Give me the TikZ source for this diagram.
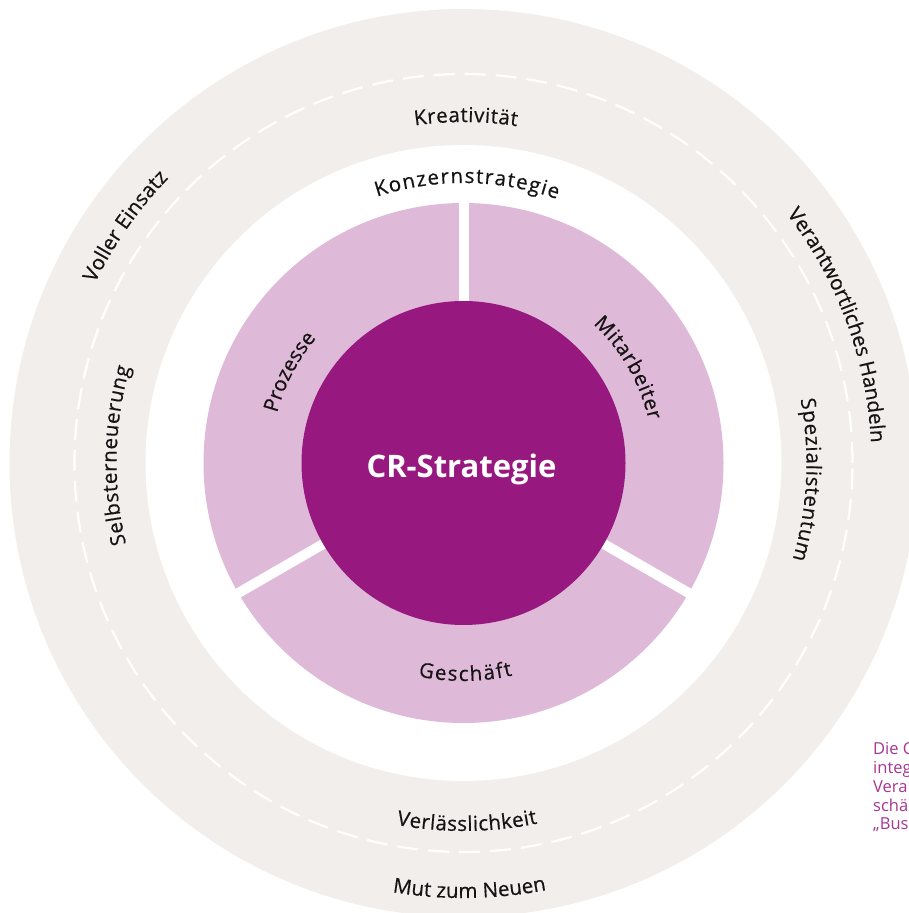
\documentclass[tikz,border=0pt]{standalone}
\usepackage{fontspec}
\setmainfont{Open Sans}
\newfontfamily\labelfamily{Open Sans}[FakeBold=0.5]
\usetikzlibrary{decorations.text}

\definecolor{ringgrey}{HTML}{F1EEEB}
\definecolor{petal}{HTML}{DEB9D8}
\definecolor{core}{HTML}{97197F}
\definecolor{inktext}{HTML}{161314}
\definecolor{captionpurple}{HTML}{A53593}

\newcommand\lblfont{\labelfamily\fontsize{20.5}{20.5}\selectfont}

\tikzset{
  ringlabel/.style={decorate, decoration={text along path,
      text align=fit to path, text color=inktext, text={|\lblfont|#1}}},
  gapline/.style={white, line width=10pt},
  dashring/.style={white, line width=2.2pt, dash pattern=on 21pt off 10pt},
}

% text set along an arc around the centre: start angle, end angle, radius, text
\newcommand\ringtext[4]{\path[ringlabel={#4}] (#1:#3) arc[start angle=#1, end angle=#2, radius=#3];}

\begin{document}
\begin{tikzpicture}[x=1pt,y=1pt]
\useasboundingbox (0,0) rectangle (909,913);
\clip (0,0) rectangle (909,913);

\begin{scope}[shift={(463.5,450)}]
  % outer value ring
  \fill[ringgrey] (0,0) circle[radius=454];
  \draw[dashring] (0,0) circle[radius=389];
  \fill[white] (0,0) circle[radius=318];

  % three segments around the core
  \fill[petal] (0,0) circle[radius=260];
  \foreach \a in {90,210,330} \draw[gapline] (0,0) -- (\a:266);

  % core
  \node[circle, fill=core, minimum size=324pt, inner sep=0pt] (core) at (0,0) {};
  \node[anchor=base, text=white, font=\bfseries\fontsize{31}{31}\selectfont]
    (corelabel) at (-2,-15) {CR-Strategie};

  % segment labels
  \ringtext{165}{140}{193}{Prozesse}
  \ringtext{47}{13}{190}{Mitarbeiter}
  \ringtext{258}{283}{218}{Geschäft}
  \ringtext{108}{70.5}{280}{Konzernstrategie}

  % inner ring values
  \ringtext{98.2}{81}{341}{Kreativität}
  \ringtext{193.5}{164}{347}{Selbsterneuerung}
  \ringtext{10.7}{-16.3}{343}{Spezialistentum}
  \ringtext{259.5}{281.6}{368}{Verlässlichkeit}

  % outer ring values
  \ringtext{154}{136}{410}{Voller Einsatz}
  \ringtext{37.6}{3.4}{408}{Verantwortliches Handeln}
  \ringtext{260.6}{281}{435}{Mut zum Neuen}
\end{scope}

% side caption (anchored at the baseline of its last line)
\node[anchor=base west, align=left, inner sep=0pt, text=captionpurple,
      font=\fontsize{16.5}{18.8}\selectfont] (caption) at (873,83)
  {Die C\\integ\\Vera\\schä\\„Bus};
\end{tikzpicture}
\end{document}
